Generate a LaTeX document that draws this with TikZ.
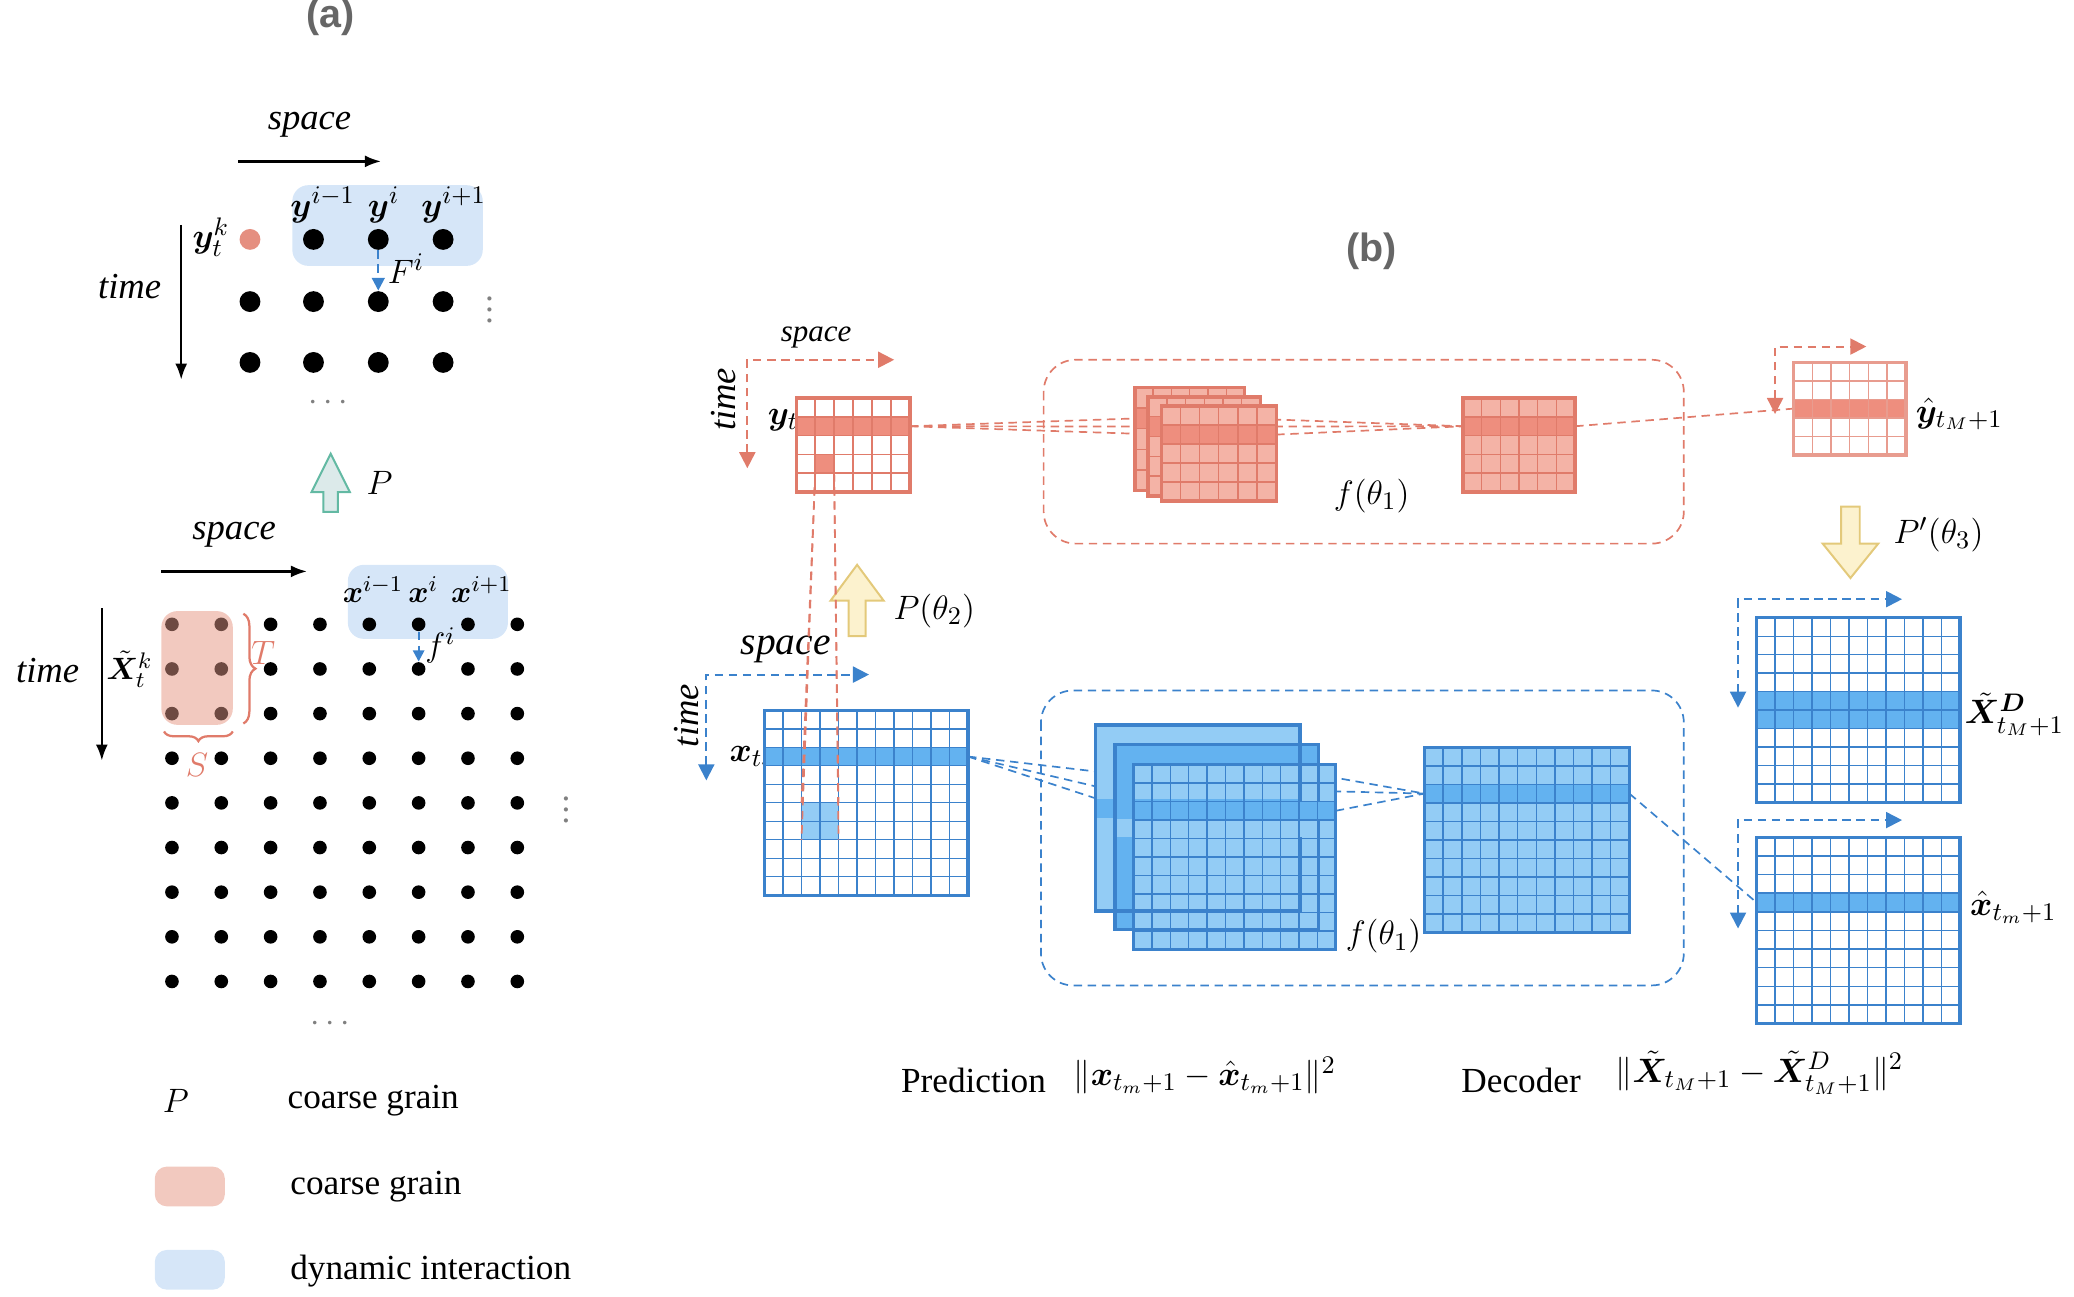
\documentclass[tikz,border=0pt]{standalone}
\usepackage{amsmath}
\usepackage{bm}
\usepackage{fontspec}
\setmainfont{Liberation Serif}
\newfontfamily\headfont{Liberation Sans}
\usetikzlibrary{arrows.meta, calc, backgrounds, decorations.pathreplacing}

\definecolor{redline}{HTML}{E07B6A}
\definecolor{redrow}{HTML}{EE8E7E}
\definecolor{redlight}{HTML}{F4B3A6}
\definecolor{redpale}{HTML}{F2C9BF}
\definecolor{reddot}{HTML}{6E4A42}
\definecolor{blueline}{HTML}{3B82CC}
\definecolor{bluerow}{HTML}{63B2F0}
\definecolor{bluelight}{HTML}{93CCF5}
\definecolor{bluepale}{HTML}{D6E6F8}
\definecolor{yelfill}{HTML}{FCF2CE}
\definecolor{yelline}{HTML}{E3C97A}
\definecolor{tealline}{HTML}{63B9A3}
\definecolor{tealfill}{HTML}{DCEAEA}
\definecolor{headgray}{HTML}{666666}

% grid lines and border of a feature map node
\newcommand{\fmgrid}[4]{%
  \foreach \i in {1,...,#2}
    \draw[#4, line width=0.5pt] ($(#1.north west)!\i/#2!(#1.north east)$) -- ($(#1.south west)!\i/#2!(#1.south east)$);
  \foreach \j in {1,...,#3}
    \draw[#4, line width=0.5pt] ($(#1.north west)!\j/#3!(#1.south west)$) -- ($(#1.north east)!\j/#3!(#1.south east)$);
  \draw[#4, line width=1.2pt] (#1.north west) rectangle (#1.south east);
}
% highlighted rows
\newcommand{\fmrow}[5]{%
  \fill[#5] ($(#1.north west)!#3/#2!(#1.south west)$) rectangle ($(#1.north east)!#4/#2!(#1.south east)$);
}
% highlighted block of cells
\newcommand{\fmcells}[8]{%
  \coordinate (#1-x0) at ($(#1.north west)!#4/#2!(#1.north east)$);
  \coordinate (#1-y0) at ($(#1.north west)!#5/#3!(#1.south west)$);
  \coordinate (#1-x1) at ($(#1.north west)!#6/#2!(#1.north east)$);
  \coordinate (#1-y1) at ($(#1.north west)!#7/#3!(#1.south west)$);
  \coordinate (#1-cnw) at (#1-x0 |- #1-y0);
  \coordinate (#1-cne) at (#1-x1 |- #1-y0);
  \coordinate (#1-csw) at (#1-x0 |- #1-y1);
  \coordinate (#1-cse) at (#1-x1 |- #1-y1);
  \fill[#8] (#1-cnw) rectangle (#1-cse);
}
% ports on the highlighted row
\newcommand{\fmport}[2]{%
  \coordinate (#1-w) at ($(#1.north west)!#2!(#1.south west)$);
  \coordinate (#1-e) at ($(#1.north east)!#2!(#1.south east)$);
}

\tikzset{
  head/.style={font=\headfont\bfseries\fontsize{14}{16}\selectfont, text=headgray},
  axlab/.style={font=\itshape\fontsize{13}{15}\selectfont},
  small/.style={font=\fontsize{11}{13}\selectfont},
  bigdot/.style={circle, fill=black, inner sep=0pt, minimum size=2.6mm},
  smalldot/.style={circle, fill=black, inner sep=0pt, minimum size=1.7mm},
  sheet/.style n args={3}{rectangle, inner sep=0pt, anchor=north west, minimum width=#1*0.165mm, minimum height=#2*0.165mm, fill=#3},
  redlink/.style={draw=redline, densely dashed, line width=0.6pt},
  bluelink/.style={draw=blueline, densely dashed, line width=0.6pt},
  redaxis/.style={draw=redline, densely dashed, line width=0.7pt, arrows={Triangle[length=2mm,width=2mm]-Triangle[length=2mm,width=2mm]}},
  blueaxis/.style={draw=blueline, densely dashed, line width=0.7pt, arrows={Triangle[length=2mm,width=2mm]-Triangle[length=2mm,width=2mm]}},
  blockarrow/.style={line width=0.7pt, line join=miter},
}

\begin{document}
\begin{tikzpicture}[x=0.165mm, y=-0.165mm, font=\fontsize{12.5}{15}\selectfont]
\useasboundingbox (0,0) rectangle (1568,980);

% ---------------- (a) ----------------
\node[head] (ta) at (250,13) {(a)};

% coarse level
\node[axlab] (sp1) at (234,94) {space};
\draw[-{Latex[length=2mm]}, thick] (180,122) -- (288,122);
\node[axlab] (tm1) at (98,217) {time};
\draw[-{Latex[length=2mm]}, thick] (137,170) -- (137,287);
\fill[bluepale, rounded corners=2mm] (221,140) rectangle (365,201);
\node[circle, fill=redline!85, inner sep=0pt, minimum size=2.6mm] (t-1-1) at (189,181) {};
\foreach \c/\xx in {2/237,3/286,4/335}
  \node[bigdot] (t-1-\c) at (\xx,181) {};
\foreach \r/\yy in {2/228,3/274}
  \foreach \c/\xx in {1/189,2/237,3/286,4/335}
    \node[bigdot] (t-\r-\c) at (\xx,\yy) {};
\node (lym) at (244,155) {$\bm{y}^{i-1}$};
\node (ly) at (290,155) {$\bm{y}^{i}$};
\node (lyp) at (343,155) {$\bm{y}^{i+1}$};
\node[anchor=east] (lyk) at (181,179) {$\bm{y}_t^k$};
\draw[blueline, densely dashed, thick, -{Triangle[length=1.6mm,width=1.6mm]}] (t-1-3) -- (t-2-3);
\node (lF) at (307,203) {$F^i$};
\node[text=gray] (vd1) at (370,228) {$\vdots$};
\node[text=gray] (hd1) at (250,305) {$\cdots$};

% coarse grain arrow
\draw[blockarrow, draw=tealline, fill=tealfill] (250,343) -- (264.5,372) -- (255.5,372) -- (255.5,387) -- (244.5,387) -- (244.5,372) -- (235.5,372) -- cycle;
\node (lP) at (287,365) {$P$};

% fine level
\node[axlab] (sp2) at (177,404) {space};
\draw[-{Latex[length=2mm]}, thick] (122,432) -- (232,432);
\node[axlab] (tm2) at (36,507) {time};
\draw[-{Latex[length=2mm]}, thick] (77,460) -- (77,575);
\fill[redpale, rounded corners=2mm] (122,462) rectangle (176,548);
\fill[bluepale, rounded corners=2mm] (263,427) rectangle (384,483);
\foreach \r in {0,...,8}
  \foreach \c in {0,...,7} {
    \ifnum\r<3 \ifnum\c<2 \def\dc{reddot}\else\def\dc{black}\fi\else\def\dc{black}\fi
    \node[smalldot, fill=\dc] (b-\r-\c) at ({130+37.3*\c},{472+33.75*\r}) {};
  }
\node[small] (lxm) at (282,446) {$\bm{x}^{i-1}$};
\node[small] (lx) at (320,446) {$\bm{x}^{i}$};
\node[small] (lxp) at (364,446) {$\bm{x}^{i+1}$};
\node[small, anchor=east, inner sep=1pt] (lXk) at (118,506) {$\tilde{\bm{X}}_t^k$};
\draw[blueline, densely dashed, thick, -{Triangle[length=1.4mm,width=1.4mm]}] (b-0-5) -- (b-1-5);
\node (lf) at (333,488) {$f^i$};
\draw[redline, thick, decorate, decoration={brace, amplitude=1.5mm}] (184,464) -- (184,547);
\node[text=redline] (lT) at (199,494) {$T$};
\draw[redline, thick, decorate, decoration={brace, amplitude=1.2mm}] (176,553) -- (124,553);
\node[text=redline] (lS) at (149,578) {$S$};
\node[text=gray] (vd2) at (428,606) {$\vdots$};
\node[text=gray] (hd2) at (252,774) {$\cdots$};

% legend
\node (kP) at (133,832) {$P$};
\node[anchor=west] (kP-t) at (210,832) {coarse grain};
\fill[redpale, rounded corners=1.5mm] (117,882) rectangle (170,912);
\node[anchor=west] (kR-t) at (212,897) {coarse grain};
\fill[bluepale, rounded corners=1.5mm] (117,945) rectangle (170,975);
\node[anchor=west] (kB-t) at (212,961) {dynamic interaction};

% ---------------- (b) ----------------
\node[head] (tb) at (1037,190) {(b)};

% coarse branch
\draw[redaxis] (565,354) -- (565,272) -- (676,272);
\node[axlab, font=\itshape\fontsize{11}{13}\selectfont] (sp3) at (617,255) {space};
\node[axlab, rotate=90] (tm3) at (547,302) {time};
\draw[redlink, rounded corners=4mm] (789,272) rectangle (1273,411);

\node[anchor=west] (lyt) at (573,318) {$\bm{y}_{t_M}$};
\node[sheet={85}{70}{white}] (yg) at (602,301) {};
\fmrow{yg}{5}{1}{2}{redrow}
\fmcells{yg}{6}{5}{1}{3}{2}{4}{redrow}
\fmgrid{yg}{6}{5}{redline}
\fmport{yg}{0.3}

\foreach \s/\xx/\yy/\ww/\hh in {rs1/858/293/82/77, rs2/868/300/84/74, rs3/878/307/86/71} {
  \node[sheet={\ww}{\hh}{redlight}] (\s) at (\xx,\yy) {};
  \fmrow{\s}{5}{1}{2}{redrow}
  \fmgrid{\s}{6}{5}{redline}
  \fmport{\s}{0.3}
}
\node (lf1) at (1037,375) {$f(\theta_1)$};

\node[sheet={84}{70}{redlight}] (rg3) at (1106,301) {};
\fmrow{rg3}{5}{1}{2}{redrow}
\fmgrid{rg3}{6}{5}{redline}
\fmport{rg3}{0.3}

\draw[redaxis] (1342,313) -- (1342,262) -- (1411,262);
\node[sheet={84}{69}{white}] (yh) at (1356,274) {};
\fmrow{yh}{5}{2}{3}{redrow}
\fmgrid{yh}{6}{5}{redline!75}
\fmport{yh}{0.5}
\node[anchor=west] (lyh) at (1441,313) {$\hat{\bm{y}}_{t_M+1}$};

\begin{scope}[on background layer]
  \foreach \s in {rs1,rs2,rs3} {
    \draw[redlink] (yg-e) -- (\s-w);
    \draw[redlink] (\s-e) -- (rg3-w);
  }
  \draw[redlink] (rg3-e) -- (yh-w);
\end{scope}

% projection arrows
\draw[blockarrow, draw=yelline, fill=yelfill] (648,427) -- (668,454) -- (654.5,454) -- (654.5,481) -- (641.5,481) -- (641.5,454) -- (628,454) -- cycle;
\node[anchor=west] (lP2) at (668,462) {$P(\theta_2)$};
\draw[blockarrow, draw=yelline, fill=yelfill] (1399,437) -- (1420,411) -- (1406,411) -- (1406,383) -- (1392,383) -- (1392,411) -- (1378,411) -- cycle;
\node[anchor=west] (lP3) at (1424,404) {$P'(\theta_3)$};

% fine branch
\draw[blueaxis] (534,590) -- (534,510) -- (657,510);
\node[axlab, font=\itshape\fontsize{14}{16}\selectfont] (sp4) at (594,491) {space};
\node[axlab, rotate=90] (tm4) at (519,541) {time};
\draw[bluelink, rounded corners=4mm] (787,522) rectangle (1273,745);

\node[anchor=west] (lxt) at (544,573) {$\bm{x}_{t_m}$};
\node[sheet={153}{139}{white}] (xg) at (578,537) {};
\fmrow{xg}{10}{2}{3}{bluerow}
\fmcells{xg}{11}{10}{2}{5}{4}{7}{bluelight}
\fmgrid{xg}{11}{10}{blueline}
\fmport{xg}{0.25}

\foreach \s/\xx/\yy/\ww/\hh/\cc in {bs1/828/548/154/140/bluelight, bs2/843/563/153/139/bluerow, bs3/857/578/152/139/bluelight} {
  \node[sheet={\ww}{\hh}{\cc}] (\s) at (\xx,\yy) {};
  \fmport{\s}{0.25}
}
\fmrow{bs1}{10}{4}{5}{bluerow}
\draw[blueline, line width=1.2pt] (bs1.north west) rectangle (bs1.south east);
\fmrow{bs2}{10}{4}{5}{bluelight}
\draw[blueline, line width=1.2pt] (bs2.north west) rectangle (bs2.south east);
\fmrow{bs3}{10}{2}{3}{bluerow}
\fmgrid{bs3}{11}{10}{blueline}
\node (lf2) at (1046,708) {$f(\theta_1)$};

\node[sheet={154}{139}{bluelight}] (bg3) at (1077,565) {};
\fmrow{bg3}{10}{2}{3}{bluerow}
\fmgrid{bg3}{11}{10}{blueline}
\fmport{bg3}{0.25}

\draw[blueaxis] (1314,535) -- (1314,453) -- (1438,453);
\node[sheet={153}{139}{white}] (xd) at (1328,467) {};
\fmrow{xd}{10}{4}{6}{bluerow}
\fmgrid{xd}{11}{10}{blueline}
\node[anchor=west, inner sep=1pt] (lxd) at (1483,540) {$\tilde{\bm{X}}^{\bm{D}}_{t_M+1}$};

\draw[blueaxis] (1314,702) -- (1314,620) -- (1438,620);
\node[sheet={153}{140}{white}] (xh) at (1328,633) {};
\fmrow{xh}{10}{3}{4}{bluerow}
\fmgrid{xh}{11}{10}{blueline}
\fmport{xh}{0.35}
\node[anchor=west] (lxh) at (1482,686) {$\hat{\bm{x}}_{t_m+1}$};

\begin{scope}[on background layer]
  \foreach \s in {bs1,bs2,bs3} {
    \draw[bluelink] (xg-e) -- (\s-w);
    \draw[bluelink] (\s-e) -- (bg3-w);
  }
  \draw[bluelink] (bg3-e) -- (xh-w);
\end{scope}

% coarse cell taken from the fine block
\draw[redlink] (yg-csw) -- (xg-csw);
\draw[redlink] (yg-csw) -- (xg-cnw);
\draw[redlink] (yg-cse) -- (xg-cne);
\draw[redlink] (yg-cse) -- (xg-cse);

% losses
\node (lpred) at (736,817) {Prediction};
\node (lpredf) at (911,813) {$\|\bm{x}_{t_m+1}-\hat{\bm{x}}_{t_m+1}\|^2$};
\node (ldec) at (1150,817) {Decoder};
\node[anchor=west] (ldecf) at (1214,811) {$\|\tilde{\bm{X}}_{t_M+1}-\tilde{\bm{X}}^{D}_{t_M+1}\|^2$};
\end{tikzpicture}
\end{document}
